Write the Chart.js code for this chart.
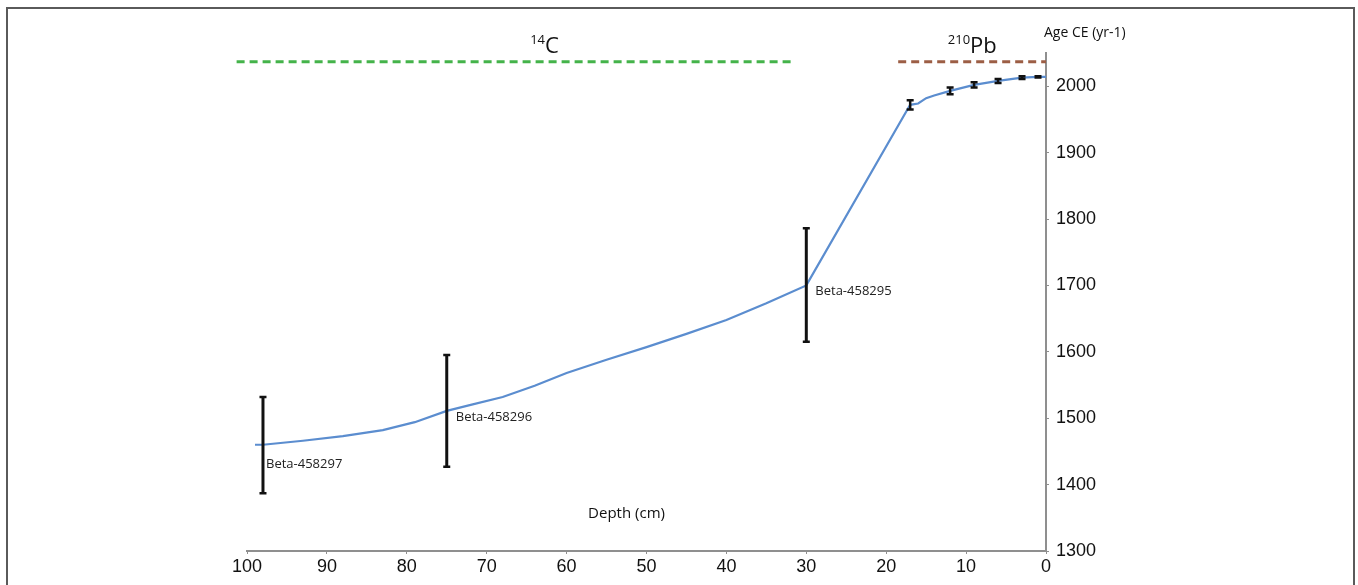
<!DOCTYPE html>
<html>
<head>
<meta charset="utf-8">
<script src="https://cdn.jsdelivr.net/npm/chart.js@4"></script>
<style>
  html, body { margin: 0; padding: 0; background: #fff; }
  #wrap { width: 1358px; height: 585px; }
</style>
</head>
<body>
<div id="wrap"><canvas id="ageModel" width="1358" height="585"></canvas></div>
<script>
// age-depth model line (depth in cm, age CE)
const depths = [99, 98, 93, 88, 83, 79, 75, 72, 68, 64, 60, 55, 50, 45, 40, 35, 30, 17, 16, 15, 14, 12, 9, 6, 3, 1, 0];
const ages   = [1460, 1460, 1466, 1473, 1482, 1494, 1511, 1520, 1532, 1549, 1568, 1588, 1607, 1627, 1648, 1673, 1700, 1972, 1974, 1982, 1986, 1993, 2002, 2008, 2013, 2014, 2014];

// dated samples with error ranges
const sampleDepths = [98, 75, 30, 17, 12, 9, 6, 3, 1];
const sampleLow    = [1387, 1427, 1615, 1965, 1988, 1998, 2005, 2011, 2013];
const sampleHigh   = [1532, 1595, 1786, 1979, 1998, 2006, 2011, 2015, 2015];
const sampleNames  = ['Beta-458297', 'Beta-458296', 'Beta-458295', '', '', '', '', '', ''];
const sampleAges   = [1460, 1511, 1700, 1972, 1993, 2002, 2008, 2013, 2014];

// dating method ranges
const c14Range = [101.3, 31.6];
const pbRange  = [18.5, 0];
const methodLevel = 2037;

const xTicks = [100, 90, 80, 70, 60, 50, 40, 30, 20, 10, 0];
const yTicks = [1300, 1400, 1500, 1600, 1700, 1800, 1900, 2000];

const tickFont = { family: '"Liberation Sans", Arial, sans-serif', size: 18 };
const noteFont = '"Open Sans", "DejaVu Sans", sans-serif';

const errorBars = {
  id: 'errorBars',
  afterDatasetsDraw(chart) {
    const { ctx, scales: { x, y } } = chart;
    ctx.save();
    ctx.strokeStyle = '#111';
    for (let i = 0; i < sampleDepths.length; i++) {
      const px = x.getPixelForValue(sampleDepths[i]);
      const top = y.getPixelForValue(sampleHigh[i]);
      const bot = y.getPixelForValue(sampleLow[i]);
      const big = sampleNames[i] !== '';
      ctx.lineWidth = big ? 3 : 2.5;
      const cap = 3.5;
      ctx.beginPath();
      ctx.moveTo(px, top); ctx.lineTo(px, bot);
      ctx.stroke();
      ctx.lineWidth = 2.5;
      ctx.beginPath();
      ctx.moveTo(px - cap, top); ctx.lineTo(px + cap, top);
      ctx.moveTo(px - cap, bot); ctx.lineTo(px + cap, bot);
      ctx.stroke();
      if (big) {
        ctx.fillStyle = '#222';
        ctx.font = '13px ' + noteFont;
        ctx.textBaseline = 'middle';
        ctx.textAlign = 'left';
        const py = y.getPixelForValue(sampleAges[i]);
        const dy = i === 0 ? 20 : 6;
        ctx.fillText(sampleNames[i], px + 3 + (i === 0 ? 0 : 6), py + dy);
      }
    }
    ctx.restore();
  }
};

const annotations = {
  id: 'annotations',
  afterDraw(chart) {
    const { ctx, scales: { x, y }, chartArea } = chart;
    ctx.save();
    // frame
    ctx.strokeStyle = '#5a5a5a';
    ctx.lineWidth = 2;
    ctx.beginPath();
    ctx.moveTo(7, 600); ctx.lineTo(7, 8); ctx.lineTo(1354, 8); ctx.lineTo(1354, 600);
    ctx.stroke();

    ctx.fillStyle = '#111';
    ctx.textBaseline = 'alphabetic';
    // 14C
    ctx.font = '13px ' + noteFont;
    ctx.textAlign = 'right';
    const cx = x.getPixelForValue(62.7);
    ctx.fillText('14', cx, 44);
    ctx.font = '22px ' + noteFont;
    ctx.textAlign = 'left';
    ctx.fillText('C', cx, 53);
    // 210Pb
    const px = x.getPixelForValue(9.5);
    ctx.font = '13px ' + noteFont;
    ctx.textAlign = 'right';
    ctx.fillText('210', px, 44);
    ctx.font = '22px ' + noteFont;
    ctx.textAlign = 'left';
    ctx.fillText('Pb', px, 53);

    // axis titles
    ctx.font = '14px ' + noteFont;
    ctx.textAlign = 'left';
    ctx.fillText('Age CE (yr-1)', chartArea.right - 2, 37);
    ctx.font = '15px ' + noteFont;
    ctx.textAlign = 'center';
    ctx.fillText('Depth (cm)', x.getPixelForValue(52.5), 518);
    ctx.restore();
  }
};

new Chart(document.getElementById('ageModel').getContext('2d'), {
  type: 'line',
  data: {
    datasets: [
      {
        label: 'Age model',
        data: depths.map((d, i) => ({ x: d, y: ages[i] })),
        borderColor: '#5b8dcf',
        borderWidth: 2.2,
        pointRadius: 0,
        tension: 0
      },
      {
        label: '14C',
        data: c14Range.map(d => ({ x: d, y: methodLevel })),
        borderColor: '#44b34a',
        borderWidth: 3,
        borderDash: [8, 5],
        pointRadius: 0,
        clip: false
      },
      {
        label: '210Pb',
        data: pbRange.map(d => ({ x: d, y: methodLevel })),
        borderColor: '#9c5e45',
        borderWidth: 3,
        borderDash: [8, 5],
        pointRadius: 0,
        clip: false
      }
    ]
  },
  options: {
    responsive: false,
    animation: false,
    layout: { padding: { left: 247, right: 252, top: 53, bottom: 0 } },
    plugins: { legend: { display: false }, tooltip: { enabled: false } },
    scales: {
      x: {
        type: 'linear',
        reverse: true,
        min: 0,
        max: 100,
        afterBuildTicks: s => { s.ticks = xTicks.map(v => ({ value: v })); },
        afterFit: s => { s.height = 34; },
        border: { color: '#8f8f8f', width: 2 },
        grid: { drawOnChartArea: false, tickLength: 3, color: '#8f8f8f' },
        ticks: { font: tickFont, color: '#111', padding: 2, maxRotation: 0, callback: v => String(v) }
      },
      y: {
        type: 'linear',
        position: 'right',
        min: 1300,
        max: 2050,
        afterBuildTicks: s => { s.ticks = yTicks.map(v => ({ value: v })); },
        afterFit: s => { s.width = 60; },
        border: { color: '#8f8f8f', width: 2 },
        grid: { drawOnChartArea: false, tickLength: 3, color: '#8f8f8f' },
        ticks: { font: tickFont, color: '#111', padding: 7, callback: v => String(v) }
      }
    }
  },
  plugins: [errorBars, annotations]
});
</script>
</body>
</html>
